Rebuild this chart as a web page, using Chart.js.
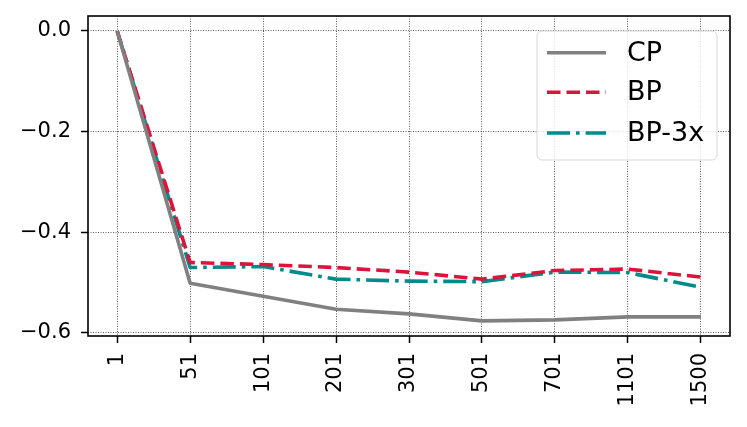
<!DOCTYPE html>
<html lang="en">
<head>
<meta charset="UTF-8">
<title>CP / BP / BP-3x</title>
<script src="https://cdn.jsdelivr.net/npm/chart.js"></script>
<style>
    html, body { margin: 0; padding: 0; background: #fff; }
    .chart-container { width: 747px; height: 427px; }
</style>
</head>
<body>
<div class="chart-container"><canvas id="myChart" width="747" height="427"></canvas></div>
<script>
const categories = ['1', '51', '101', '201', '301', '501', '701', '1101', '1500'];
const cpValues = [0.0, -0.501, -0.527, -0.553, -0.562, -0.576, -0.574, -0.568, -0.568];
const bpValues = [0.0, -0.460, -0.464, -0.470, -0.479, -0.493, -0.476, -0.473, -0.489];
const bp3xValues = [0.0, -0.470, -0.468, -0.493, -0.497, -0.498, -0.479, -0.480, -0.509];
const yTicks = [-0.6, -0.4, -0.2, 0.0];
const seriesNames = ['CP', 'BP', 'BP-3x'];

const FONT = "'DejaVu Sans', sans-serif";

function toPoints(values) {
    return values.map((v, i) => ({ x: i, y: v }));
}

// frame round the plot area
const framePlugin = {
    id: 'frame',
    afterDraw(chart) {
        const a = chart.chartArea;
        const ctx = chart.ctx;
        ctx.save();
        ctx.strokeStyle = '#000';
        ctx.lineWidth = 1.6;
        ctx.strokeRect(a.left, a.top, a.right - a.left, a.bottom - a.top);
        ctx.restore();
    }
};

// matplotlib-like legend with line samples
const legendPlugin = {
    id: 'mplLegend',
    afterDraw(chart) {
        const ctx = chart.ctx;
        const x0 = 537, y0 = 31, w = 180, h = 129, r = 5;
        ctx.save();
        ctx.beginPath();
        ctx.moveTo(x0 + r, y0);
        ctx.arcTo(x0 + w, y0, x0 + w, y0 + h, r);
        ctx.arcTo(x0 + w, y0 + h, x0, y0 + h, r);
        ctx.arcTo(x0, y0 + h, x0, y0, r);
        ctx.arcTo(x0, y0, x0 + w, y0, r);
        ctx.closePath();
        ctx.fillStyle = 'rgba(255,255,255,0.8)';
        ctx.fill();
        ctx.strokeStyle = '#d6d6d6';
        ctx.lineWidth = 1;
        ctx.stroke();

        const rows = [52.7, 92.3, 133];
        chart.data.datasets.forEach((ds, i) => {
            const y = rows[i];
            ctx.beginPath();
            ctx.setLineDash(ds.borderDash || []);
            ctx.strokeStyle = ds.borderColor;
            ctx.lineWidth = ds.borderWidth;
            ctx.lineCap = 'butt';
            ctx.moveTo(547, y);
            ctx.lineTo(606, y);
            ctx.stroke();
            ctx.setLineDash([]);
            ctx.fillStyle = '#000';
            ctx.font = '27px ' + FONT;
            ctx.textBaseline = 'middle';
            ctx.textAlign = 'left';
            ctx.fillText(ds.label, 627, y + 1);
        });
        ctx.restore();
    }
};

const ctx = document.getElementById('myChart').getContext('2d');
const myChart = new Chart(ctx, {
    type: 'line',
    data: {
        datasets: [
            {
                label: seriesNames[0],
                data: toPoints(cpValues),
                borderColor: '#808080',
                borderWidth: 3.6,
                borderDash: [],
            },
            {
                label: seriesNames[1],
                data: toPoints(bpValues),
                borderColor: '#dc143c',
                borderWidth: 3.6,
                borderDash: [13.5, 6],
            },
            {
                label: seriesNames[2],
                data: toPoints(bp3xValues),
                borderColor: '#008b8b',
                borderWidth: 3.6,
                borderDash: [23, 6, 3.6, 6],
            },
        ],
    },
    options: {
        responsive: false,
        animation: false,
        devicePixelRatio: 1,
        layout: { padding: { top: 16, right: 17, left: 0, bottom: 0 } },
        elements: {
            point: { radius: 0 },
            line: { tension: 0, fill: false, borderJoinStyle: 'round', borderCapStyle: 'butt' },
        },
        plugins: {
            legend: { display: false },
            tooltip: { enabled: false },
        },
        scales: {
            x: {
                type: 'linear',
                min: -0.4,
                max: 8.4,
                afterBuildTicks: (scale) => {
                    scale.ticks = categories.map((c, i) => ({ value: i }));
                },
                afterFit: (scale) => {
                    scale.height = 91;
                    scale.paddingLeft = 0;
                    scale.paddingRight = 0;
                },
                ticks: {
                    autoSkip: false,
                    minRotation: 90,
                    maxRotation: 90,
                    padding: 10,
                    color: '#000',
                    font: { family: FONT, size: 21 },
                    callback: (v) => categories[v],
                },
                grid: {
                    color: '#333',
                    lineWidth: 0.8,
                    tickLength: 7,
                    tickColor: '#000',
                    tickWidth: 1.5,
                },
                border: { display: false, dash: [1, 1.5] },
            },
            y: {
                type: 'linear',
                min: -0.606,
                max: 0.0298,
                afterBuildTicks: (scale) => {
                    scale.ticks = yTicks.map((v) => ({ value: v }));
                },
                afterFit: (scale) => {
                    scale.width = 88;
                    scale.paddingTop = 0;
                    scale.paddingBottom = 0;
                },
                ticks: {
                    padding: 10,
                    color: '#000',
                    font: { family: FONT, size: 21 },
                    callback: (v) => (v < 0 ? '\u2212' : '') + Math.abs(v).toFixed(1),
                },
                grid: {
                    color: '#333',
                    lineWidth: 0.8,
                    tickLength: 7,
                    tickColor: '#000',
                    tickWidth: 1.5,
                },
                border: { display: false, dash: [1, 1.5] },
            },
        },
    },
    plugins: [framePlugin, legendPlugin],
});
</script>
</body>
</html>
